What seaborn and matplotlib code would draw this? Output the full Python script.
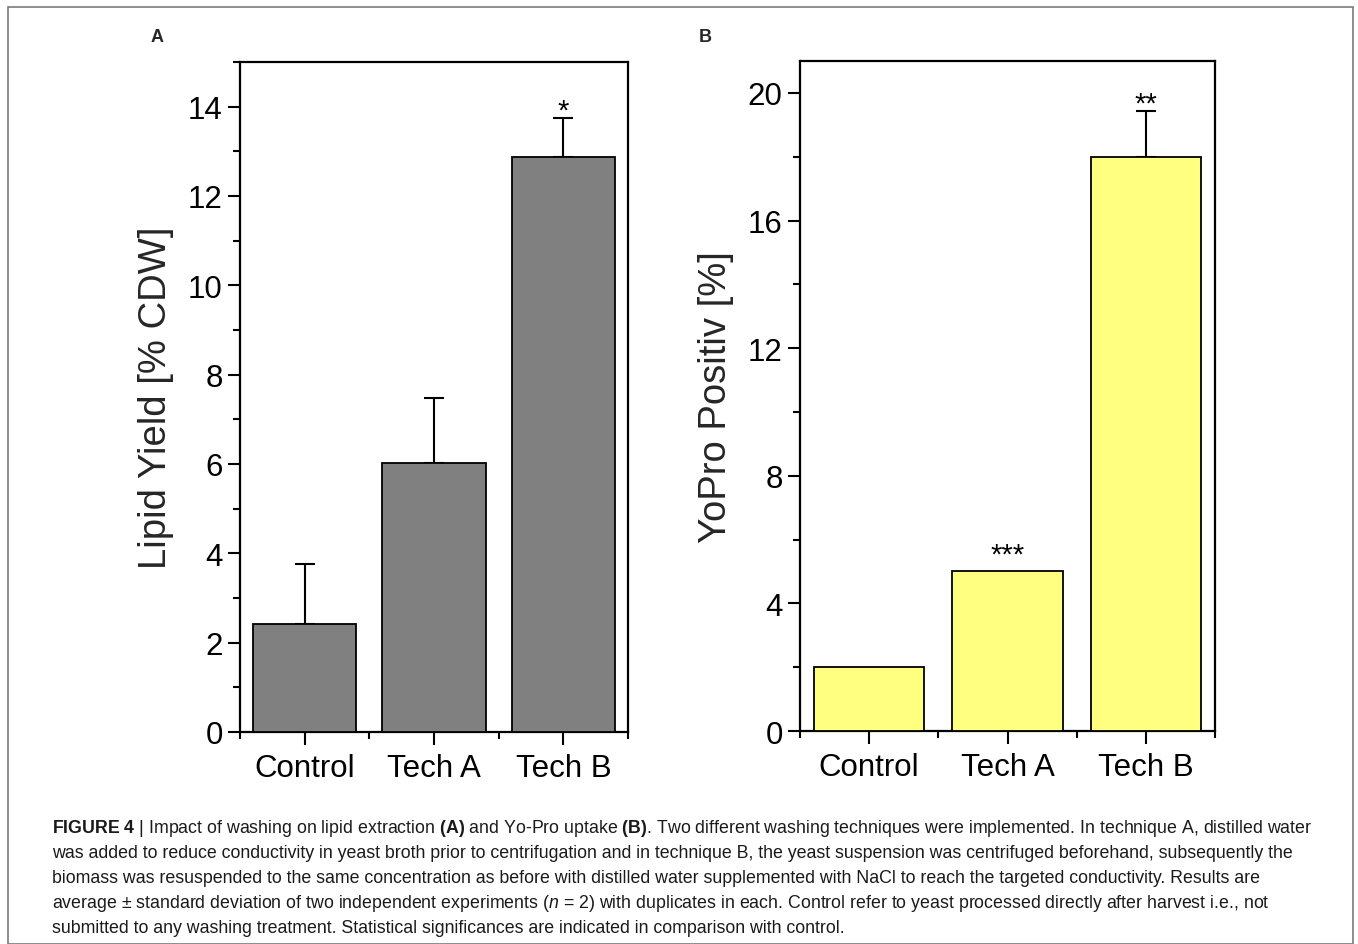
import matplotlib
matplotlib.use("Agg")
import matplotlib.pyplot as plt
import seaborn as sns
import pandas as pd
import numpy as np
from matplotlib.ticker import MultipleLocator, FixedLocator
from matplotlib.patches import Rectangle

categories = ["Control", "Tech A", "Tech B"]
lipid_yield = [2.42, 6.03, 12.88]
lipid_err = [1.35, 1.45, 0.86]
lipid_sig = ["", "", "*"]
yopro_pos = [2.0, 5.0, 18.0]
yopro_err = [0.0, 0.0, 1.42]
yopro_sig = ["", "***", "**"]

sns.set_style("white")
plt.rcParams['font.family'] = ['Liberation Sans', 'DejaVu Sans']
plt.rcParams['mathtext.fontset'] = 'custom'
plt.rcParams['mathtext.rm'] = 'Liberation Sans'
plt.rcParams['mathtext.bf'] = 'Liberation Sans:bold'
plt.rcParams['mathtext.it'] = 'Liberation Sans:italic'

fig = plt.figure(figsize=(13.58, 9.45), dpi=100)

def panel(rect, vals, errs, sigs, color, ylim, major, minor, ylabel, label, labelx):
    ax = fig.add_axes(rect)
    df = pd.DataFrame({"cat": categories, "val": vals})
    sns.barplot(data=df, x="cat", y="val", color=color, saturation=1,
                edgecolor="black", linewidth=1.3, width=0.8, ax=ax, zorder=3)
    x = np.arange(len(categories))
    e = np.array(errs)
    v = np.array(vals)
    mask = e > 0
    ax.errorbar(x[mask], v[mask], yerr=[np.zeros(mask.sum()), e[mask]], fmt="none",
                ecolor="black", elinewidth=1.5, capsize=7, capthick=1.5, zorder=2)
    for xi, vi, ei, s in zip(x, v, e, sigs):
        if s:
            off = -4.5 if ei > 0 else 2.0
            ax.annotate(s, xy=(xi, vi + ei), xytext=(0, off), textcoords="offset points",
                        ha="center", va="bottom", fontsize=21, color="black")
    ax.set_xlim(-0.5, 2.5)
    ax.set_ylim(*ylim)
    ax.yaxis.set_major_locator(MultipleLocator(major))
    ax.yaxis.set_minor_locator(MultipleLocator(minor))
    ax.xaxis.set_minor_locator(FixedLocator([-0.5, 0.5, 1.5, 2.5]))
    ax.tick_params(axis="both", which="major", direction="out", length=9, width=1.5,
                   labelsize=22.5, color="black", labelcolor="black", left=True, bottom=True)
    ax.tick_params(axis="both", which="minor", direction="out", length=5, width=1.5,
                   left=True, bottom=True, color="black")
    ax.tick_params(axis="x", which="major", pad=6)
    for sp in ax.spines.values():
        sp.set_visible(True)
        sp.set_linewidth(1.6)
        sp.set_color("black")
    ax.set_xlabel("")
    ax.set_ylabel(ylabel, fontsize=27.5, labelpad=10)
    fig.text(labelx, 1 - 37 / 945, label, fontsize=13, fontweight="bold",
             ha="center", va="center")
    return ax

axA = panel([240 / 1358, 1 - 733 / 945, 388 / 1358, 670 / 945], lipid_yield, lipid_err,
            lipid_sig, "#808080", (0, 15), 2, 1, "Lipid Yield [% CDW]", "A", 157 / 1358)
axB = panel([800 / 1358, 1 - 732 / 945, 415 / 1358, 670 / 945], yopro_pos, yopro_err,
            yopro_sig, "#FFFF80", (0, 21), 4, 2, "YoPro Positiv [%]", "B", 705 / 1358)

# figure border
fig.patches.append(Rectangle((8 / 1358, 0), 1345 / 1358, 1 - 8 / 945,
                             transform=fig.transFigure, fill=False,
                             edgecolor="#7a7a7a", linewidth=1.2))

caption = [
    r"$\mathbf{FIGURE\ 4}$ | Impact of washing on lipid extraction $\mathbf{(A)}$ and Yo-Pro uptake $\mathbf{(B)}$. Two different washing techniques were implemented. In technique A, distilled water",
    "was added to reduce conductivity in yeast broth prior to centrifugation and in technique B, the yeast suspension was centrifuged beforehand, subsequently the",
    "biomass was resuspended to the same concentration as before with distilled water supplemented with NaCl to reach the targeted conductivity. Results are",
    r"average ± standard deviation of two independent experiments ($\mathit{n}$ = 2) with duplicates in each. Control refer to yeast processed directly after harvest i.e., not",
    "submitted to any washing treatment. Statistical significances are indicated in comparison with control.",
]
texts = []
for i, line in enumerate(caption):
    t = fig.text(52 / 1358, 1 - (829 + 25 * i) / 945, line, fontsize=12,
                 color="#1a1a1a", ha="left", va="center")
    texts.append(t)

renderer = fig.canvas.get_renderer()
w = texts[0].get_window_extent(renderer).width
target = 1255.0
new_size = 12 * target / w
for t in texts:
    t.set_fontsize(new_size)

fig.savefig("out.png", dpi=100)
